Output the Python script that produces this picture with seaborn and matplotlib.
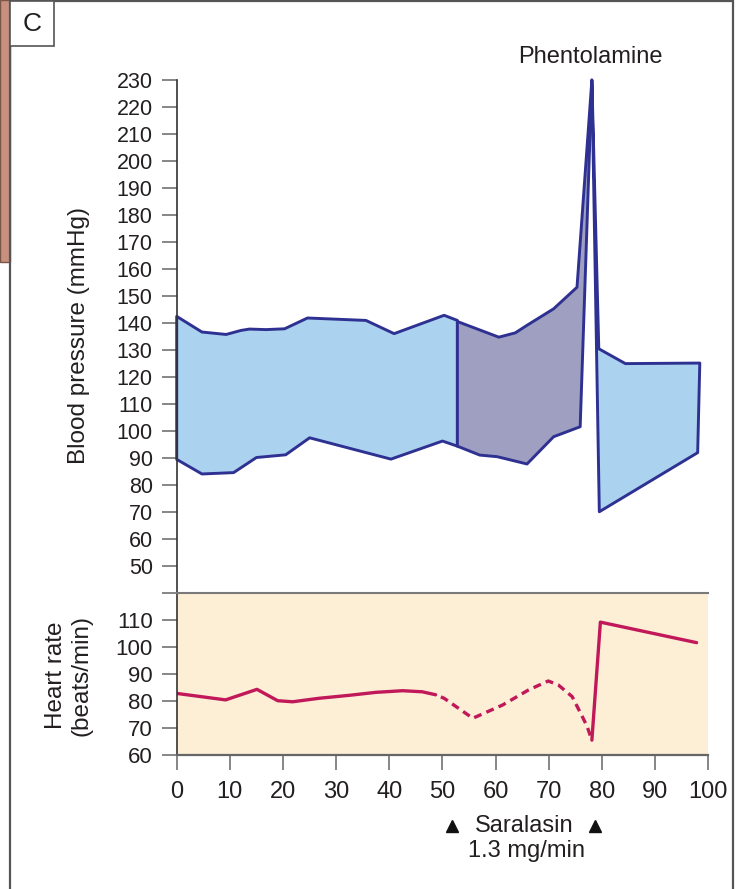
import matplotlib
matplotlib.use("Agg")
import matplotlib.pyplot as plt
import matplotlib.transforms as mtransforms
from matplotlib.patches import Rectangle
import seaborn as sns

# blood pressure envelope before saralasin (time in min, mmHg)
base_up_t = [0, 4.75, 9.3, 12.1, 13.7, 16.8, 20.3, 24.6, 35.6, 40.9, 50.3, 52.8]
base_up = [142.4, 136.6, 135.7, 137.2, 137.7, 137.5, 137.8, 141.8, 140.9, 136.0, 142.8, 140.9]
base_lo_t = [0, 4.75, 10.7, 15.0, 20.5, 25.0, 40.3, 50.0, 52.8]
base_lo = [89.4, 84.0, 84.5, 90.1, 91.1, 97.4, 89.5, 96.2, 94.3]

# during saralasin infusion
sar_up_t = [52.8, 60.6, 63.7, 65.9, 70.9, 75.3]
sar_up = [140.5, 134.7, 136.3, 139.1, 145.2, 153.2]
sar_lo_t = [52.8, 57.0, 60.3, 65.9, 70.9, 75.9]
sar_lo = [94.3, 91.0, 90.4, 87.7, 97.8, 101.5]

# pressor peak, then after phentolamine
peak_t = 78.1
peak_bp = 230
phen_t = [79.4, 84.4, 98.4, 98.0, 79.5]
phen_bp = [130.4, 124.9, 125.1, 91.9, 70.0]

# heart rate (beats/min)
hr1_t = [0, 9.2, 15.1, 19.0, 21.8, 26.8, 32.5, 37.5, 42.5, 46.2, 48.7]
hr1 = [82.7, 80.3, 84.2, 80.0, 79.6, 80.9, 82.0, 83.1, 83.7, 83.3, 82.2]
hr2_t = [48.7, 50.3, 55.7, 61.3, 66.2, 69.9, 71.8, 74.4, 76.3, 77.2, 78.1]
hr2 = [82.2, 80.9, 73.5, 78.4, 84.0, 87.3, 85.8, 81.5, 74.1, 70.5, 65.4]
hr3_t = [78.1, 79.7, 97.8]
hr3 = [65.4, 109.1, 101.5]

bp_ticks = list(range(50, 231, 10))
hr_ticks = list(range(60, 121, 10))
hr_ticklabels = [str(v) for v in hr_ticks[:-1]] + [""]
x_ticks = list(range(0, 101, 10))
saralasin_marks = [51.8, 78.6]

navy = "#2e3191"
light_blue = "#abd3ef"
purple = "#9f9fc1"
hr_color = "#c1185a"
ink = "#231f20"

sns.set_theme(style="white")
plt.rcParams['font.family'] = ['Liberation Sans', 'DejaVu Sans']

W, H = 738, 889
fig = plt.figure(figsize=(W / 100, H / 100), dpi=100)


def fx(px):
    return px / W


def fy(py):
    return 1 - py / H


ax_bp = fig.add_axes([fx(176.7), fy(592.7), fx(708.3) - fx(176.7), fy(80) - fy(592.7)])
ax_hr = fig.add_axes([fx(176.7), fy(754.7), fx(708.3) - fx(176.7), fy(592.7) - fy(754.7)])

# blood pressure bands
ax_bp.fill(base_up_t + base_lo_t[::-1], base_up + base_lo[::-1],
           facecolor=light_blue, edgecolor=navy, lw=2.1, joinstyle='round', clip_on=False)
ax_bp.fill(sar_up_t + [peak_t] + sar_lo_t[::-1], sar_up + [peak_bp] + sar_lo[::-1],
           facecolor=purple, edgecolor=navy, lw=2.1, joinstyle='round', clip_on=False)
ax_bp.fill([peak_t] + phen_t, [peak_bp] + phen_bp,
           facecolor=light_blue, edgecolor=navy, lw=2.1, joinstyle='round', clip_on=False)

ax_bp.set_xlim(0, 100)
ax_bp.set_ylim(40, 230)
ax_bp.set_yticks(bp_ticks)
ax_bp.set_xticks([])
for s in ['top', 'right', 'bottom']:
    ax_bp.spines[s].set_visible(False)
ax_bp.spines['left'].set_color('#333333')
ax_bp.spines['left'].set_linewidth(1.2)
ax_bp.spines['left'].set_zorder(3)
ax_bp.tick_params(axis='y', left=True, length=10.8, width=1.1, color='#666666',
                  pad=6.5, labelsize=15.5, labelcolor=ink)

# heart rate
ax_hr.set_facecolor('#fdefd5')
sns.lineplot(x=hr1_t, y=hr1, ax=ax_hr, color=hr_color, linewidth=2.4,
             estimator=None, sort=False)
sns.lineplot(x=hr2_t, y=hr2, ax=ax_hr, color=hr_color, linewidth=2.4,
             estimator=None, sort=False, linestyle=(2.3, (2.4, 1.6)))
sns.lineplot(x=hr3_t, y=hr3, ax=ax_hr, color=hr_color, linewidth=2.4,
             estimator=None, sort=False)

ax_hr.set_xlim(0, 100)
ax_hr.set_ylim(60, 120)
ax_hr.set_yticks(hr_ticks)
ax_hr.set_yticklabels(hr_ticklabels)
ax_hr.set_xticks(x_ticks)
ax_hr.set_xlabel("")
ax_hr.set_ylabel("")
ax_hr.spines['right'].set_visible(False)
ax_hr.spines['top'].set_color('#7a7a7a')
ax_hr.spines['top'].set_linewidth(1.5)
ax_hr.spines['bottom'].set_color('#666666')
ax_hr.spines['bottom'].set_linewidth(1.6)
ax_hr.spines['left'].set_color('#333333')
ax_hr.spines['left'].set_linewidth(1.2)
ax_hr.tick_params(axis='y', left=True, length=10.8, width=1.1, color='#666666',
                  pad=6.5, labelsize=16, labelcolor=ink)
ax_hr.tick_params(axis='x', bottom=True, length=10.8, width=1.1, color='#666666',
                  pad=8, labelsize=17, labelcolor=ink)

# saralasin markers
tr = mtransforms.blended_transform_factory(ax_hr.transData, fig.transFigure)
ax_hr.plot(saralasin_marks, [fy(826)] * 2, transform=tr, linestyle='none',
           marker='^', ms=8, color='#111111', clip_on=False)
fig.text(fx(524), fy(832), "Saralasin", ha='center', va='baseline', fontsize=17, color=ink)
fig.text(fx(526), fy(857), "1.3 mg/min", ha='center', va='baseline', fontsize=17, color=ink)
fig.text(fx(590), fy(63), "Phentolamine", ha='center', va='baseline', fontsize=17, color=ink)

# axis titles
fig.text(fx(79), fy(336), "Blood pressure (mmHg)", rotation=90, ha='center', va='center',
         fontsize=17.5, color=ink)
fig.text(fx(69), fy(675), "Heart rate\n(beats/min)", rotation=90, ha='center', va='center',
         fontsize=17.5, color=ink, multialignment='center')

# page frame, brown tab and panel letter
fig.patches.append(Rectangle((0, fy(262)), fx(9.5), fy(0) - fy(262), transform=fig.transFigure,
                             facecolor='#c8917f', edgecolor='#7a5548', lw=1, zorder=0))
fig.patches.append(Rectangle((fx(10), fy(900)), fx(733) - fx(10), fy(1) - fy(900),
                             transform=fig.transFigure, fill=False, edgecolor='#555555', lw=1.6))
fig.patches.append(Rectangle((fx(10), fy(46)), fx(54) - fx(10), fy(1) - fy(46),
                             transform=fig.transFigure, facecolor='white', edgecolor='#555555', lw=1.2))
fig.text(fx(32), fy(24), "C", ha='center', va='center', fontsize=19, color=ink)

fig.savefig("out.png", dpi=100)
